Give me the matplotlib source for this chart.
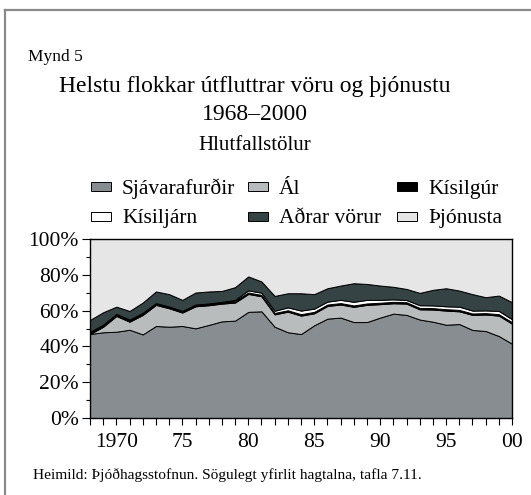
import matplotlib
matplotlib.use("Agg")
import matplotlib.pyplot as plt
from matplotlib.patches import Rectangle
from matplotlib.lines import Line2D

plt.rcParams['font.family'] = ['Liberation Serif', 'DejaVu Serif']

years = list(range(1968, 2001))
sjavarafurdir = [46.9, 47.9, 48.2, 49.3, 46.7, 51.4, 51.0, 51.4, 50.1, 52.0, 54.0,
                 54.4, 59.3, 59.6, 51.0, 47.9, 46.9, 51.8, 55.5, 56.1, 53.6, 53.6,
                 56.1, 58.3, 57.6, 55.0, 53.8, 52.1, 52.5, 49.2, 48.6, 45.8, 41.5]
al = [0.0, 3.1, 8.8, 4.5, 10.9, 11.8, 10.3, 7.5, 12.3, 11.0, 9.9,
      10.1, 10.0, 8.4, 6.9, 11.5, 10.3, 6.7, 7.1, 7.3, 8.5, 9.6,
      7.5, 5.8, 6.3, 5.7, 6.8, 7.9, 7.1, 8.4, 9.2, 11.4, 11.2]
kisilgur = [1.2, 1.2, 1.2, 1.2, 1.2, 1.0, 1.0, 1.0, 1.0, 1.0, 1.0,
            1.0, 0.8, 0.8, 0.8, 0.8, 0.8, 0.8, 0.8, 0.8, 0.8, 0.8,
            0.8, 0.8, 0.8, 0.8, 0.8, 0.8, 0.8, 0.8, 0.8, 0.8, 0.8]
kisiljarn = [0.0, 0.0, 0.0, 0.0, 0.0, 0.0, 0.0, 0.0, 0.0, 0.0, 0.0,
             0.5, 1.2, 1.2, 1.2, 1.6, 2.0, 1.8, 1.6, 1.8, 2.0, 2.0,
             1.6, 1.4, 1.2, 1.5, 1.5, 1.6, 1.8, 1.6, 1.5, 1.8, 1.7]
adrar_vorur = [6.7, 6.9, 4.0, 4.8, 5.7, 6.5, 6.9, 6.1, 6.7, 6.7, 6.1,
               7.1, 7.8, 6.3, 8.3, 7.9, 9.7, 8.1, 7.5, 8.0, 10.4, 8.9,
               8.0, 7.0, 6.2, 6.9, 8.7, 10.1, 9.0, 9.2, 7.4, 8.6, 9.5]
thjonusta = [100 - (a + b + c + d + e) for a, b, c, d, e in
             zip(sjavarafurdir, al, kisilgur, kisiljarn, adrar_vorur)]

labels = ['Sjávarafurðir', 'Ál', 'Kísilgúr', 'Kísiljárn', 'Aðrar vörur', 'Þjónusta']
colors = ['#878d90', '#b9bcbd', '#000000', '#ffffff', '#354344', '#e6e6e6']

W, H = 531, 495
fig = plt.figure(figsize=(W / 100, H / 100), dpi=100)
ax = fig.add_axes([90 / W, 1 - 418 / H, 422 / W, 179 / H])

ax.stackplot(years, sjavarafurdir, al, kisilgur, kisiljarn, adrar_vorur, thjonusta,
             colors=colors, edgecolor='black', linewidth=0.7)

ax.set_xlim(1968, 2000)
ax.set_ylim(0, 100)
ax.set_xticks(years, minor=True)
ax.set_xticks([1970, 1975, 1980, 1985, 1990, 1995, 2000])
ax.set_xticklabels(['1970', '75', '80', '85', '90', '95', '00'])
ax.set_yticks([0, 20, 40, 60, 80, 100])
ax.set_yticklabels(['0%', '20%', '40%', '60%', '80%', '100%'])
ax.set_yticks(range(10, 100, 20), minor=True)
ax.tick_params(axis='x', which='both', length=5, width=0.8, labelsize=15.5, pad=6)
ax.tick_params(axis='y', which='major', length=6, width=0.8, labelsize=15.5, pad=2)
ax.tick_params(axis='y', which='minor', length=3, width=0.8)
for s in ax.spines.values():
    s.set_linewidth(1.0)

# legend, placed entry by entry (pixel positions of the reference)
col_x = [91, 248, 397]
row_y = [187, 216]
for i, (lab, col) in enumerate(zip(labels, colors)):
    r, c = divmod(i, 3)
    x0, yc = col_x[c], row_y[r]
    fig.add_artist(Rectangle((x0 / W, 1 - (yc + 4.5) / H), 20 / W, 9 / H,
                             transform=fig.transFigure, facecolor=col,
                             edgecolor='black', linewidth=0.7))
    fig.text((x0 + 31) / W, 1 - (yc + 7) / H, lab, fontsize=15.5, va='baseline')

fig.text(28 / W, 1 - 61 / H, 'Mynd 5', fontsize=12.5, va='baseline')
fig.text(255 / W, 1 - 92 / H, 'Helstu flokkar útfluttrar vöru og þjónustu',
         fontsize=17, ha='center', va='baseline')
fig.text(255 / W, 1 - 120 / H, '1968–2000', fontsize=17, ha='center', va='baseline')
fig.text(255 / W, 1 - 150 / H, 'Hlutfallstölur', fontsize=15, ha='center', va='baseline')
fig.text(33 / W, 1 - 479 / H, 'Heimild: Þjóðhagsstofnun. Sögulegt yfirlit hagtalna, tafla 7.11.',
         fontsize=11.1, va='baseline')

# partial frame around the figure
fig.add_artist(Line2D([5 / W, 1.0], [1 - 10 / H, 1 - 10 / H],
                      transform=fig.transFigure, color='#8a8a8a', linewidth=1.6))
fig.add_artist(Line2D([5 / W, 5 / W], [0.0, 1 - 10 / H],
                      transform=fig.transFigure, color='#8a8a8a', linewidth=1.6))

fig.savefig('out.png', dpi=100)
